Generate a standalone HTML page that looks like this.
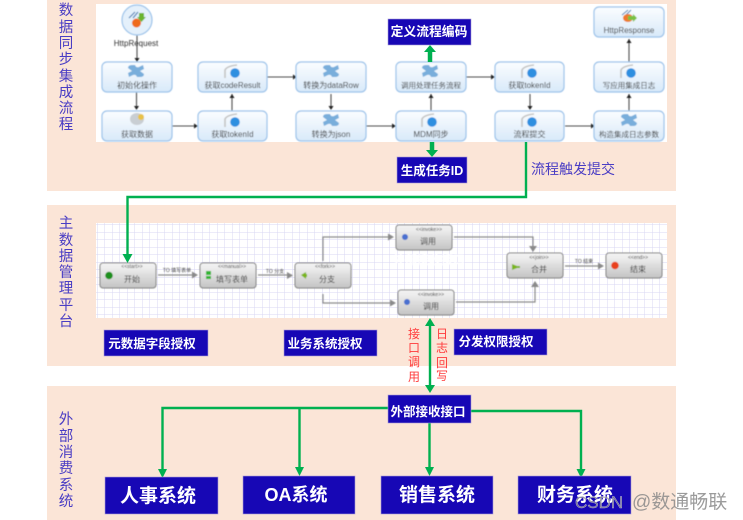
<!DOCTYPE html>
<html><head><meta charset="utf-8">
<style>
html,body{margin:0;padding:0;background:#fff;width:743px;height:520px;overflow:hidden}
svg{display:block}
text{font-family:"Liberation Sans","Noto Sans CJK SC",sans-serif}
.side{font-size:14.5px;fill:#4a3cc4;text-anchor:middle}
.red{font-size:12px;fill:#ff3b3b;text-anchor:middle}
.n{font-size:8px;fill:#333;text-anchor:middle}
.s{font-size:5px;fill:#444;text-anchor:middle}
.e{font-size:5px;fill:#444;text-anchor:middle}
.b{fill:#fff;font-weight:bold;text-anchor:middle}
.box{fill:#1707b5;stroke:#a79bd8;stroke-width:.6}
.nb{fill:url(#gb);stroke:#9cc3ea;stroke-width:1.2}
.ng{fill:url(#gg);stroke:#7f7f7f;stroke-width:1}
.k{stroke:#4d4d4d;stroke-width:1.1;fill:none}
.gr{stroke:#8a8a8a;stroke-width:1.2;fill:none}
.gn{stroke:#00b050;fill:none}
</style></head><body>
<svg width="743" height="520" viewBox="0 0 743 520" xmlns="http://www.w3.org/2000/svg">
<defs>
<linearGradient id="gb" x1="0" y1="0" x2="0" y2="1"><stop offset="0" stop-color="#fbfdff"/><stop offset="1" stop-color="#d8e9f9"/></linearGradient>
<linearGradient id="gg" x1="0" y1="0" x2="0" y2="1"><stop offset="0" stop-color="#f6f6f6"/><stop offset="1" stop-color="#c4c4c4"/></linearGradient>
<pattern id="grid" width="7.5" height="7.5" patternUnits="userSpaceOnUse"><rect width="7.5" height="7.5" fill="#fff"/><path d="M7.5 0V7.5M0 7.5H7.5" stroke="#d9d7f3" stroke-width="1" fill="none"/></pattern>
<filter id="bl"><feGaussianBlur stdDeviation=".45"/></filter>
<filter id="bt"><feGaussianBlur stdDeviation=".25"/></filter>
<g id="puz"><path d="M-8 -3 Q-8 -6 -4 -6 L-1 -6 Q0 -3 3 -4 L7 -6 L8 -2 L4 0 L8 3 Q8 6 4 6 L1 6 Q0 3 -3 4 L-7 6 L-8 2 L-4 0Z" fill="#79aedb"/></g>
<g id="web"><path d="M-8 6 V-2 Q-6 -6 4 -7" stroke="#c4c4c4" stroke-width="1.6" fill="none"/><circle cx="2" cy="1" r="4.800" fill="#2f8fe0"/></g>
</defs>

<rect x="47" y="0" width="629" height="191" fill="#fbe5d7"/>
<rect x="47" y="205" width="629" height="161" fill="#fbe5d7"/>
<rect x="47" y="386" width="629" height="134" fill="#fbe5d7"/>
<rect x="96" y="4" width="571" height="138" fill="#fff"/>
<rect x="96" y="223" width="571" height="95" fill="url(#grid)"/>

<g class="side" filter="url(#bt)">
<text x="66" y="15">数</text><text x="66" y="32">据</text><text x="66" y="48">同</text><text x="66" y="64">步</text><text x="66" y="81">集</text><text x="66" y="97">成</text><text x="66" y="113">流</text><text x="66" y="129">程</text>
<text x="66" y="228">主</text><text x="66" y="245">数</text><text x="66" y="261">据</text><text x="66" y="277">管</text><text x="66" y="293">理</text><text x="66" y="310">平</text><text x="66" y="326">台</text>
<text x="66" y="424">外</text><text x="66" y="441">部</text><text x="66" y="457">消</text><text x="66" y="473">费</text><text x="66" y="490">系</text><text x="66" y="506">统</text>
</g>
<text x="531" y="174" font-size="14" fill="#4a3cc4" filter="url(#bt)">流程触发提交</text>

<g filter="url(#bl)">
<g class="k">
<path d="M137 33V60"/><path d="M136.500 92V109"/><path d="M172 126H196"/><path d="M232 111V94"/><path d="M267 77H294"/><path d="M331 94V109"/><path d="M366 126H394"/><path d="M431 111V94"/><path d="M466 77H493"/><path d="M530 94V109"/><path d="M565 126H592"/><path d="M629 111V94"/><path d="M629 62V39"/>
</g>
<g fill="#222">
<path d="M134.500 58h5l-2.500 4z"/><path d="M134 106h5l-2.500 4z"/><path d="M194 123.500v5l4-2.500z"/><path d="M229.500 98h5l-2.500-4z"/><path d="M293 74.500v5l4-2.500z"/><path d="M328.500 106h5l-2.500 4z"/><path d="M392 123.500v5l4-2.500z"/><path d="M428.500 98h5l-2.500-4z"/><path d="M491 74.500v5l4-2.500z"/><path d="M527.500 106h5l-2.500 4z"/><path d="M591 123.500v5l4-2.500z"/><path d="M626.500 98h5l-2.500-4z"/><path d="M626.500 43h5l-2.500-4z"/>
</g>

<circle cx="137" cy="20" r="15" fill="#e4f0fb" stroke="#9cc3ea" stroke-width="1.2"/>
<circle cx="136.500" cy="23" r="4.500" fill="#ee6a1f"/>
<path d="M129 18l6-6M133 18l5-6" stroke="#4a7fb5" stroke-width="1.200"/>
<path d="M139 13h5v4h2l-4.500 5-4.500-5h2z" fill="#6ab42d"/>
<text class="n" x="136" y="46">HttpRequest</text>

<rect class="nb" x="102" y="62" width="70" height="30" rx="5"/>
<rect class="nb" x="102" y="111" width="70" height="30" rx="5"/>
<rect class="nb" x="198" y="62" width="69" height="30" rx="5"/>
<rect class="nb" x="198" y="111" width="69" height="30" rx="5"/>
<rect class="nb" x="296" y="62" width="70" height="30" rx="5"/>
<rect class="nb" x="296" y="111" width="70" height="30" rx="5"/>
<rect class="nb" x="396" y="62" width="70" height="30" rx="5"/>
<rect class="nb" x="396" y="111" width="70" height="30" rx="5"/>
<rect class="nb" x="495" y="62" width="69" height="30" rx="5"/>
<rect class="nb" x="495" y="111" width="69" height="30" rx="5"/>
<rect class="nb" x="594" y="62" width="70" height="30" rx="5"/>
<rect class="nb" x="594" y="111" width="70" height="30" rx="5"/>
<rect class="nb" x="594" y="7" width="70" height="30" rx="5"/>

<use href="#puz" x="136" y="71"/>
<use href="#web" x="233" y="72"/>
<use href="#puz" x="331" y="71"/>
<use href="#puz" x="430" y="71"/>
<use href="#web" x="530" y="72"/>
<use href="#web" x="629" y="72"/>
<use href="#web" x="233" y="121"/>
<use href="#puz" x="331" y="120"/>
<use href="#web" x="430" y="121"/>
<use href="#web" x="530" y="121"/>
<use href="#puz" x="629" y="120"/>
<ellipse cx="137" cy="119" rx="7" ry="6" fill="#c9ced3"/><circle cx="141" cy="117" r="3" fill="#e8c24a"/>
<path d="M622 15l6-5M626 15l5-5" stroke="#4a7fb5"/><ellipse cx="628" cy="18" rx="5" ry="4" fill="#ee7a2f"/><path d="M628 16h5v-2l4 4-4 4v-2h-5z" fill="#7ac142"/>

<text class="n" x="137" y="88">初始化操作</text>
<text class="n" x="137" y="137">获取数据</text>
<text class="n" x="232.500" y="88">获取codeResult</text>
<text class="n" x="232.500" y="137">获取tokenId</text>
<text class="n" x="331" y="88">转换为dataRow</text>
<text class="n" x="331" y="137">转换为json</text>
<text class="n" x="431" y="88" style="font-size:7.5px">调用处理任务流程</text>
<text class="n" x="431" y="137">MDM同步</text>
<text class="n" x="529.500" y="88">获取tokenId</text>
<text class="n" x="529.500" y="137">流程提交</text>
<text class="n" x="629" y="88" style="font-size:7.5px">写应用集成日志</text>
<text class="n" x="629" y="137" style="font-size:7.5px">构造集成日志参数</text>
<text class="n" x="629" y="33">HttpResponse</text>

<g class="gr">
<path d="M158 275H196"/><path d="M258 275H292"/>
<path d="M323 261V237H392"/><path d="M323 294V303H395"/>
<path d="M454 237H533V248"/><path d="M456 302H535V284"/><path d="M565 266H603"/>
</g>
<g fill="#8a8a8a">
<path d="M192 271.500v7l6-3.500z"/><path d="M287 272v7l6-3.500z"/><path d="M388 233.500v7l6-3.500z"/><path d="M390 299.500v7l6-3.500z"/><path d="M529 246h8l-4 6z"/><path d="M531 287h8l-4-6z"/><path d="M598 262.500v7l6-3.500z"/>
</g>
<g>
<rect class="ng" x="100" y="263" width="56" height="25" rx="3"/>
<rect class="ng" x="200" y="263" width="56" height="25" rx="3"/>
<rect class="ng" x="295" y="263" width="56" height="25" rx="3"/>
<rect class="ng" x="396" y="225" width="56" height="25" rx="3"/>
<rect class="ng" x="398" y="290" width="56" height="25" rx="3"/>
<rect class="ng" x="507" y="253" width="56" height="25" rx="3"/>
<rect class="ng" x="606" y="253" width="56" height="25" rx="3"/>
</g>
<circle cx="109" cy="275.500" r="3.800" fill="#1f8f1f"/>
<rect x="206" y="271" width="5" height="4" fill="#33b533"/><rect x="206" y="276" width="5" height="3" fill="#33b533"/>
<path d="M301 275l5-3v2h1v3h-1v2z" fill="#7ab51d"/>
<circle cx="405" cy="237" r="3" fill="#4a6fd0"/><circle cx="407" cy="302" r="3" fill="#4a6fd0"/>
<path d="M512 264l5 2 3 0v2l-3 0-5 2z" fill="#7ab51d"/>
<circle cx="615" cy="265.500" r="3.800" fill="#e8401a"/>
<text class="s" x="132" y="268">&lt;&lt;start&gt;&gt;</text><text class="s" x="232" y="268">&lt;&lt;manual&gt;&gt;</text><text class="s" x="325" y="268">&lt;&lt;fork&gt;&gt;</text><text class="s" x="429" y="231">&lt;&lt;invoke&gt;&gt;</text><text class="s" x="431" y="296">&lt;&lt;invoke&gt;&gt;</text><text class="s" x="539" y="259">&lt;&lt;join&gt;&gt;</text><text class="s" x="638" y="259">&lt;&lt;end&gt;&gt;</text>
<text class="n" x="132" y="282">开始</text><text class="n" x="232" y="282">填写表单</text><text class="n" x="327" y="282">分支</text><text class="n" x="428" y="244">调用</text><text class="n" x="431" y="309">调用</text><text class="n" x="539" y="272">合并</text><text class="n" x="638" y="272">结束</text>
<text class="e" x="177" y="272">TO 填写表单</text><text class="e" x="275" y="273">TO 分支</text><text class="e" x="584" y="263">TO 结束</text>
<text x="429" y="264" font-size="12" font-weight="bold" fill="#fff" text-anchor="middle">外部接收接口</text>
</g>

<path class="gn" stroke-width="2.400" d="M526 142V197H127.500V258"/>
<path fill="#00b050" d="M122.500 254h10l-5 9z"/>
<path class="gn" stroke-width="4.500" d="M430 62V50"/><path fill="#00b050" d="M424 52h12l-6-7z"/>
<path class="gn" stroke-width="4.500" d="M432 142V152"/><path fill="#00b050" d="M426 150h12l-6 7z"/>
<path class="gn" stroke-width="2.400" d="M430 324V387"/><path fill="#00b050" d="M425 326h10l-5-8z"/><path fill="#00b050" d="M425 385h10l-5 8z"/>
<path class="gn" stroke-width="2.400" d="M388 408H162.500V470M299.500 408V470"/>
<path fill="#00b050" d="M158 469h9l-4.500 9z"/><path fill="#00b050" d="M295 467h9l-4.500 9z"/>
<path class="gn" stroke-width="2.400" d="M429.500 423V470"/><path fill="#00b050" d="M425 467h9l-4.500 9z"/>
<path class="gn" stroke-width="2.400" d="M471 411H581V472"/><path fill="#00b050" d="M576.500 469h9l-4.500 9z"/>

<g class="red" filter="url(#bt)">
<text x="414" y="338">接</text><text x="414" y="352">口</text><text x="414" y="366">调</text><text x="414" y="381">用</text>
<text x="442" y="338">日</text><text x="442" y="352">志</text><text x="442" y="367">回</text><text x="442" y="380">写</text>
</g>

<rect class="box" x="388" y="19" width="83" height="26"/>
<rect class="box" x="397" y="157" width="70" height="26"/>
<rect class="box" x="104" y="330" width="104" height="26"/>
<rect class="box" x="284" y="330" width="93" height="26"/>
<rect class="box" x="454" y="329" width="93" height="26"/>
<rect class="box" x="388" y="395" width="83" height="28"/>
<rect class="box" x="105" y="477" width="113" height="37"/>
<rect class="box" x="243" y="476" width="112" height="38"/>
<rect class="box" x="381" y="476" width="112" height="38"/>
<rect class="box" x="518" y="476" width="113" height="38"/>
<g filter="url(#bt)">
<text class="b" x="429" y="36" font-size="12.800">定义流程编码</text>
<text class="b" x="432" y="175" font-size="12.500">生成任务ID</text>
<text class="b" x="152" y="348" font-size="12.500">元数据字段授权</text>
<text class="b" x="325" y="348" font-size="12.500">业务系统授权</text>
<text class="b" x="496" y="346" font-size="12.500">分发权限授权</text>
<text class="b" x="428" y="416" font-size="12.500">外部接收接口</text>
<text class="b" x="158" y="502" font-size="19">人事系统</text>
<text class="b" x="296" y="501" font-size="18">OA系统</text>
<text class="b" x="437" y="501" font-size="19">销售系统</text>
<text class="b" x="575" y="501" font-size="19">财务系统</text>
</g>

<text x="575" y="508" font-size="17" fill="#8a8a8a" fill-opacity=".8" stroke="#fff" stroke-opacity=".6" stroke-width=".4">CSDN</text>
<text x="632" y="508" font-size="19" fill="#8a8a8a" fill-opacity=".85">@数通畅联</text>
</svg>
</body></html>
